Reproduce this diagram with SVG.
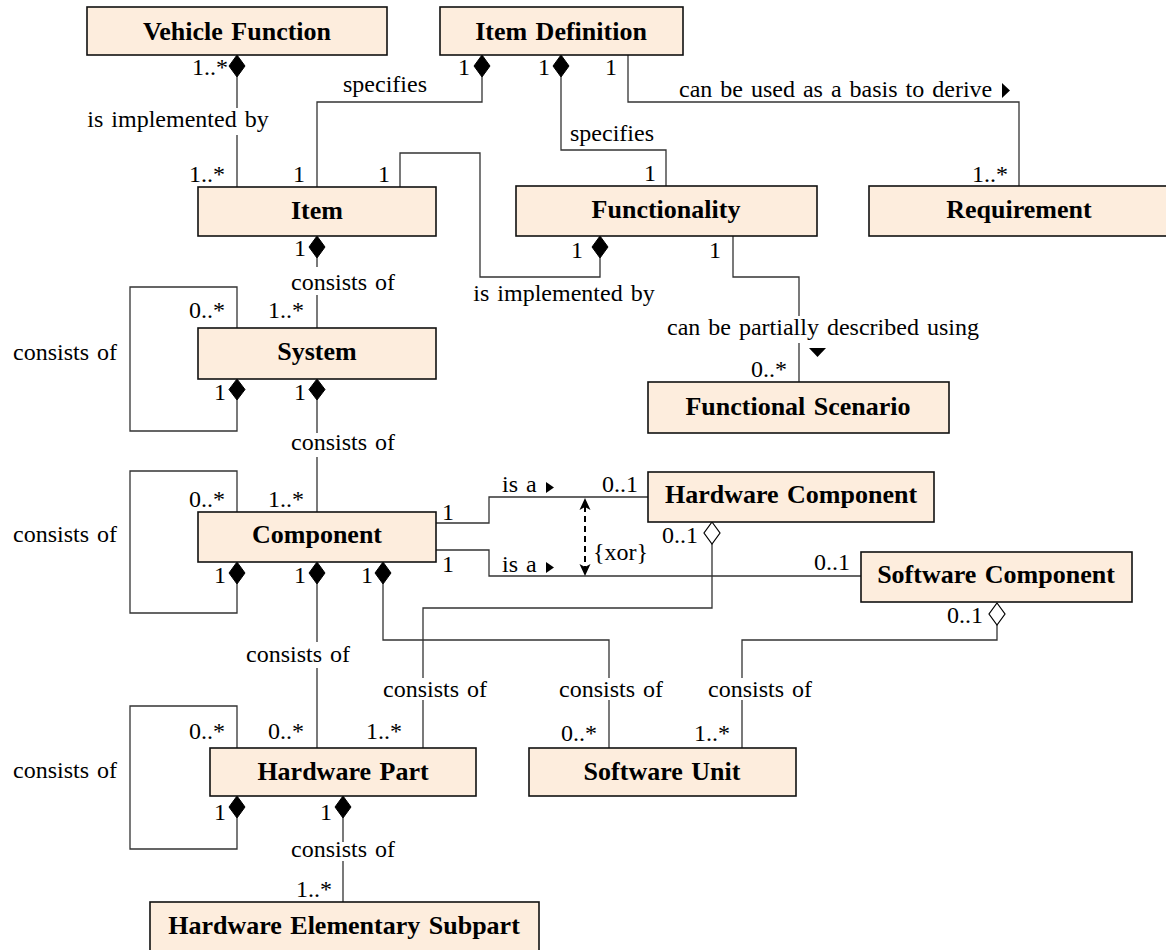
<svg xmlns="http://www.w3.org/2000/svg" width="1166" height="950" viewBox="0 0 1166 950">
<style>
.box{fill:#fdeddd;stroke:#111;stroke-width:1.6}
.t{font-family:"Liberation Serif","Times New Roman",serif;font-weight:bold;font-size:26px;text-anchor:middle;word-spacing:2px;fill:#000}
.l{font-family:"Liberation Serif","Times New Roman",serif;font-size:24px;word-spacing:2px;fill:#000}
.m{text-anchor:middle}
.e{text-anchor:end}
.c{fill:none;stroke:#333;stroke-width:1.3}
.fd{fill:#000;stroke:#000;stroke-width:1}
.hd{fill:#fff;stroke:#000;stroke-width:1.2}
.tri{fill:#000}
</style>
<rect width="1166" height="950" fill="#fff"/>
<g id="connectors">
<path class="c" d="M237,77 V108 M237,135 V187"/>
<path class="c" d="M317,187 V102 H482 V77"/>
<path class="c" d="M400,187 V153 H480 V277 H600 V258"/>
<path class="c" d="M561,77 V150 H666 V186"/>
<path class="c" d="M628,55 V102 H1019 V186"/>
<path class="c" d="M733,236 V277 H799 V316 M799,343 V382"/>
<path class="c" d="M317,258 V267 M317,295 V328"/>
<path class="c" d="M237,328 V287 H130 V431 H237 V400"/>
<path class="c" d="M317,400 V433 M317,457 V512"/>
<path class="c" d="M237,512 V471 H130 V613 H237 V584"/>
<path class="c" d="M436,523 H489 V497 H648"/>
<path class="c" d="M436,550 H489 V576 H861"/>
<path d="M585,506 V569" fill="none" stroke="#000" stroke-width="2" stroke-dasharray="6,4"/>
<polygon class="tri" points="585,498 590.5,510 585,507 579.5,510"/>
<polygon class="tri" points="585,576 590.5,564 585,567 579.5,564"/>
<path class="c" d="M712,544 V608 H423 V678 M423,700 V748"/>
<path class="c" d="M997,625 V640 H742 V678 M742,700 V748"/>
<path class="c" d="M383,584 V640 H609 V678 M609,700 V748"/>
<path class="c" d="M317,584 V642 M317,668 V748"/>
<path class="c" d="M237,748 V706 H130 V849 H237 V818"/>
<path class="c" d="M343,818 V842 M343,861 V902"/>
<polygon class="fd" points="237,55 245,66 237,77 229,66"/>
<polygon class="fd" points="482,55 490,66 482,77 474,66"/>
<polygon class="fd" points="561,55 569,66 561,77 553,66"/>
<polygon class="fd" points="600,236 608,247 600,258 592,247"/>
<polygon class="fd" points="317,236 325,247 317,258 309,247"/>
<polygon class="fd" points="237,379 245,389.5 237,400 229,389.5"/>
<polygon class="fd" points="317,379 325,389.5 317,400 309,389.5"/>
<polygon class="fd" points="237,562 245,573 237,584 229,573"/>
<polygon class="fd" points="317,562 325,573 317,584 309,573"/>
<polygon class="fd" points="383,562 391,573 383,584 375,573"/>
<polygon class="fd" points="237,796 245,807 237,818 229,807"/>
<polygon class="fd" points="343,796 351,807 343,818 335,807"/>
<polygon class="hd" points="712,522 720,533 712,544 704,533"/>
<polygon class="hd" points="997,603 1005,614 997,625 989,614"/>
</g>
<g id="labels">
<text class="l e" x="228" y="75">1..*</text>
<text class="l m" x="178" y="127">is implemented by</text>
<text class="l e" x="225" y="182">1..*</text>
<text class="l m" x="299" y="182">1</text>
<text class="l m" x="384" y="182">1</text>
<text class="l m" x="385" y="92">specifies</text>
<text class="l m" x="464" y="75">1</text>
<text class="l m" x="544" y="75">1</text>
<text class="l m" x="611" y="75">1</text>
<text class="l m" x="612" y="141">specifies</text>
<text class="l m" x="650" y="181">1</text>
<text class="l" x="679" y="97">can be used as a basis to derive</text>
<polygon class="tri" points="1002,83 1010,90.5 1002,98"/>
<text class="l e" x="1008" y="182">1..*</text>
<text class="l m" x="577" y="258">1</text>
<text class="l m" x="715" y="258">1</text>
<text class="l m" x="564" y="301">is implemented by</text>
<text class="l" x="667" y="335">can be partially described using</text>
<polygon class="tri" points="809,348 826,348 817.5,357"/>
<text class="l e" x="787" y="377">0..*</text>
<text class="l m" x="300" y="256">1</text>
<text class="l m" x="343" y="290">consists of</text>
<text class="l e" x="225" y="318">0..*</text>
<text class="l e" x="304" y="318">1..*</text>
<text class="l m" x="65" y="360">consists of</text>
<text class="l m" x="220" y="400">1</text>
<text class="l m" x="300" y="400">1</text>
<text class="l m" x="343" y="450">consists of</text>
<text class="l e" x="225" y="507">0..*</text>
<text class="l e" x="304" y="507">1..*</text>
<text class="l m" x="65" y="542">consists of</text>
<text class="l m" x="220" y="583">1</text>
<text class="l m" x="300" y="583">1</text>
<text class="l m" x="367" y="583">1</text>
<text class="l m" x="448" y="520">1</text>
<text class="l m" x="448" y="572">1</text>
<text class="l" x="502" y="492">is a</text>
<polygon class="tri" points="546,482 554,487.5 546,493"/>
<text class="l" x="502" y="572">is a</text>
<polygon class="tri" points="546,562 554,567.5 546,573"/>
<text class="l e" x="638" y="492">0..1</text>
<text class="l" x="593" y="560">{xor}</text>
<text class="l e" x="698" y="543">0..1</text>
<text class="l e" x="850" y="570">0..1</text>
<text class="l e" x="983" y="623">0..1</text>
<text class="l m" x="298" y="662">consists of</text>
<text class="l m" x="435" y="697">consists of</text>
<text class="l m" x="611" y="697">consists of</text>
<text class="l m" x="760" y="697">consists of</text>
<text class="l e" x="225" y="739">0..*</text>
<text class="l e" x="304" y="739">0..*</text>
<text class="l e" x="402" y="739">1..*</text>
<text class="l e" x="597" y="741">0..*</text>
<text class="l e" x="730" y="741">1..*</text>
<text class="l m" x="65" y="778">consists of</text>
<text class="l m" x="220" y="820">1</text>
<text class="l m" x="326" y="820">1</text>
<text class="l m" x="343" y="857">consists of</text>
<text class="l e" x="332" y="897">1..*</text>
</g>
<g id="vehicle-function"><rect class="box" x="87" y="7" width="300" height="48"/><text class="t" x="237" y="40">Vehicle Function</text></g>
<g id="item-definition"><rect class="box" x="440" y="7" width="243" height="48"/><text class="t" x="561" y="40">Item Definition</text></g>
<g id="item"><rect class="box" x="198" y="187" width="238" height="49"/><text class="t" x="317" y="219">Item</text></g>
<g id="functionality"><rect class="box" x="516" y="186" width="301" height="50"/><text class="t" x="666" y="218">Functionality</text></g>
<g id="requirement"><rect class="box" x="869" y="186" width="301" height="50"/><text class="t" x="1019" y="218">Requirement</text></g>
<g id="system"><rect class="box" x="198" y="328" width="238" height="51"/><text class="t" x="317" y="360">System</text></g>
<g id="functional-scenario"><rect class="box" x="648" y="382" width="301" height="51"/><text class="t" x="798" y="415">Functional Scenario</text></g>
<g id="component"><rect class="box" x="198" y="512" width="238" height="50"/><text class="t" x="317" y="543">Component</text></g>
<g id="hardware-component"><rect class="box" x="648" y="472" width="286" height="50"/><text class="t" x="791" y="503">Hardware Component</text></g>
<g id="software-component"><rect class="box" x="861" y="552" width="271" height="50"/><text class="t" x="996" y="583">Software Component</text></g>
<g id="hardware-part"><rect class="box" x="210" y="748" width="266" height="48"/><text class="t" x="343" y="780">Hardware Part</text></g>
<g id="software-unit"><rect class="box" x="529" y="748" width="267" height="48"/><text class="t" x="662" y="780">Software Unit</text></g>
<g id="hardware-elementary-subpart"><rect class="box" x="150" y="902" width="389" height="52"/><text class="t" x="344" y="934">Hardware Elementary Subpart</text></g>
</svg>
